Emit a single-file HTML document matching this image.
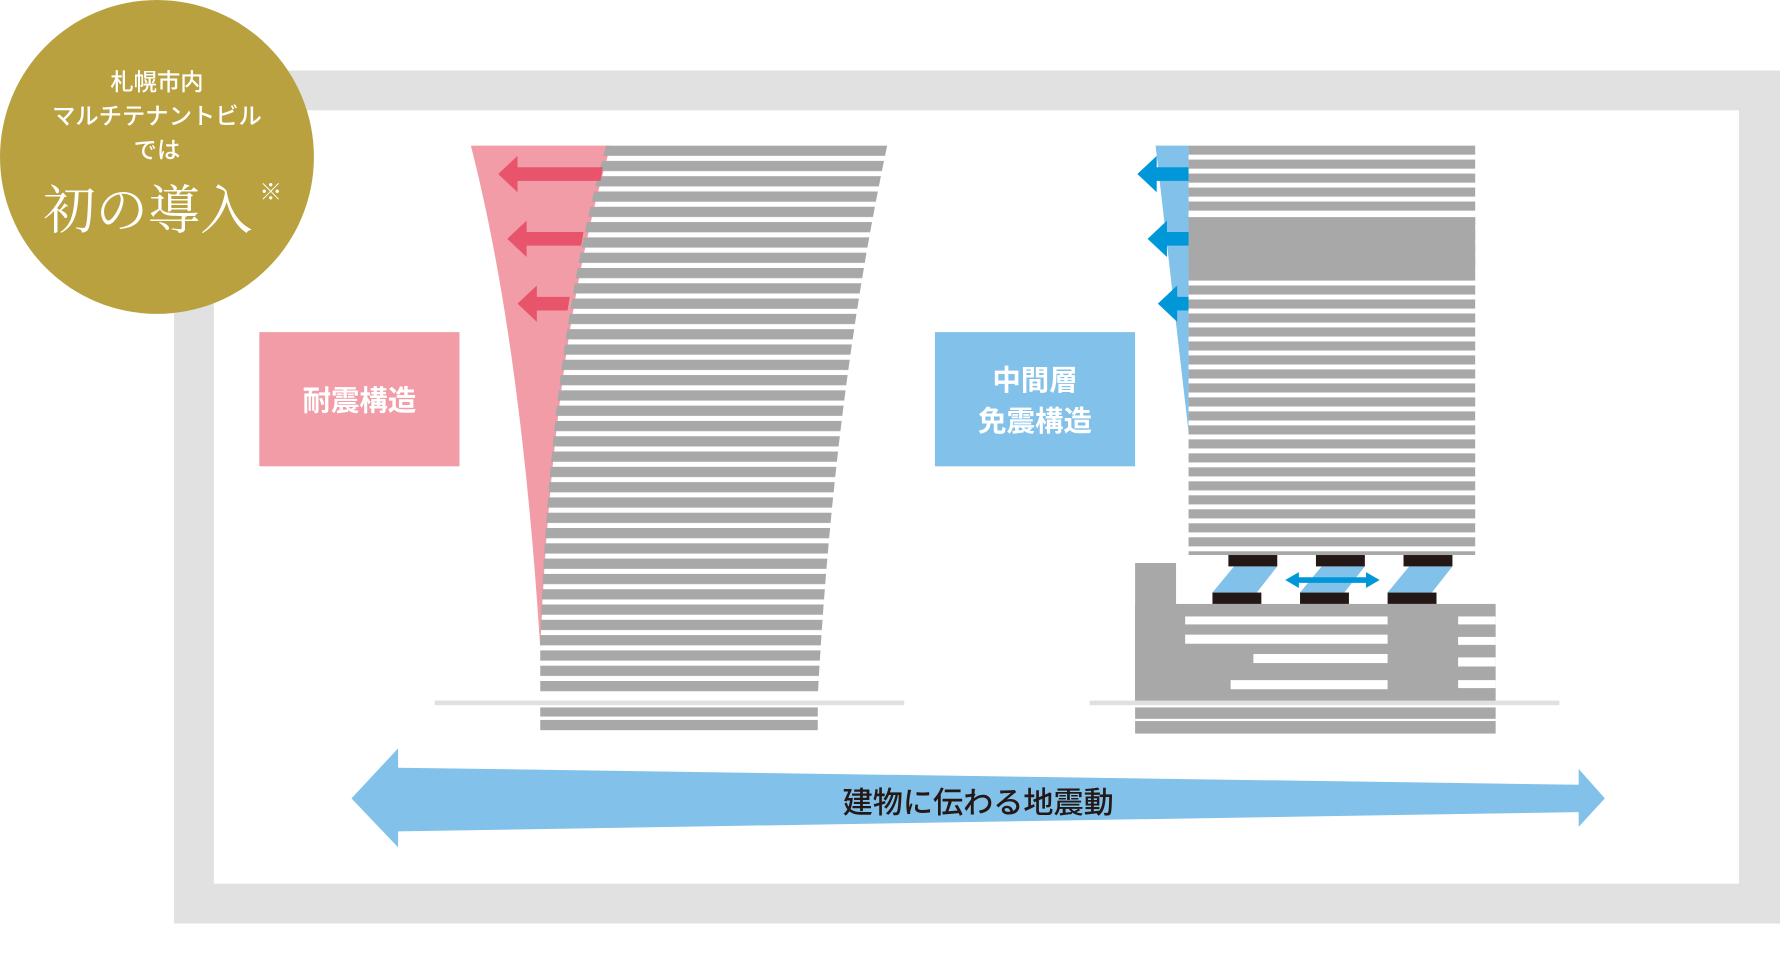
<!DOCTYPE html>
<html><head><meta charset="utf-8"><style>html,body{margin:0;padding:0;background:#fff}svg{display:block}</style></head>
<body>
<svg width="1780" height="973" viewBox="0 0 1565 855.5" preserveAspectRatio="none" xmlns="http://www.w3.org/2000/svg" font-family="'Liberation Sans','Noto Sans CJK JP',sans-serif">
<defs>
<pattern id="pL" patternUnits="userSpaceOnUse" x="0" y="128" width="10" height="13.45"><rect width="10" height="9" fill="#a7a8a7"/></pattern>
<pattern id="pR" patternUnits="userSpaceOnUse" x="0" y="128" width="10" height="12.3"><rect width="10" height="8" fill="#a7a8a7"/></pattern>
</defs>
<rect x="153" y="62" width="1412" height="750" fill="#e0e1e0"/>
<rect x="188" y="97" width="1341" height="680" fill="#fff"/>
<!-- left building -->
<path d="M414,128 L537,128 Q486,300 475,570 Q458,300 414,128 Z" fill="#f19ca7"/>
<path d="M533,128 L780,128 Q733,350 719,612 L475,612 L475,560 Q484,300 533,128 Z" fill="url(#pL)"/>
<g fill="#e8546b">
<path d="M530,147 L455,147 L455,137 L438,153 L455,169 L455,159 L528,159 Z"/>
<path d="M513,204 L463,204 L463,194 L446,210 L463,226 L463,216 L511,216 Z"/>
<path d="M501,261 L472,261 L472,251 L455,267 L472,283 L472,273 L499,273 Z"/>
</g>
<rect x="382" y="616" width="413" height="4" fill="#e0e0e0"/>
<rect x="475" y="622" width="244" height="8" fill="#a7a8a7"/>
<rect x="475" y="633" width="244" height="9" fill="#a7a8a7"/>
<rect x="228" y="292" width="176" height="118" fill="#f19ca7"/>
<text x="316" y="361" font-size="25" font-weight="bold" fill="#fff" text-anchor="middle">耐震構造</text>
<!-- right building -->
<path d="M1016,128 L1045,128 L1045,380 Z" fill="#82c1e9"/>
<rect x="1045" y="128" width="252" height="360" fill="url(#pR)"/>
<rect x="1045" y="187" width="252" height="4" fill="#fff"/>
<rect x="1045" y="191" width="252" height="49" fill="#a7a8a7"/>
<g fill="#0097d8">
<path d="M1045,147 L1017,147 L1017,137 L1000,153 L1017,169 L1017,159 L1045,159 Z"/>
<path d="M1045,204 L1026,204 L1026,194 L1009,210 L1026,226 L1026,216 L1045,216 Z"/>
<path d="M1045,261 L1035,261 L1035,251 L1018,267 L1035,283 L1035,273 L1045,273 Z"/>
</g>
<rect x="822" y="292" width="176" height="118" fill="#82c1e9"/>
<text x="910" y="343" font-size="25" font-weight="bold" fill="#fff" text-anchor="middle">中間層</text>
<text x="910" y="379" font-size="25" font-weight="bold" fill="#fff" text-anchor="middle">免震構造</text>
<!-- isolators -->
<g fill="#82c1e9">
<path d="M1085,498 L1123,498 L1105,521 L1066,521 Z"/>
<path d="M1162,498 L1200,498 L1182,521 L1143,521 Z"/>
<path d="M1239,498 L1277,498 L1259,521 L1220,521 Z"/>
</g>
<g fill="#231815">
<rect x="1080" y="488" width="43" height="10"/><rect x="1157" y="488" width="43" height="10"/><rect x="1234" y="488" width="43" height="10"/>
<rect x="1066" y="521" width="43" height="10"/><rect x="1143" y="521" width="43" height="10"/><rect x="1220" y="521" width="43" height="10"/>
</g>
<path d="M1130,510 L1142,503 L1142,507.5 L1201,507.5 L1201,503 L1213,510 L1201,517 L1201,512.5 L1142,512.5 L1142,517 Z" fill="#0097d8"/>
<!-- base -->
<rect x="998" y="495" width="36" height="123" fill="#a7a8a7"/>
<rect x="998" y="531" width="317" height="87" fill="#a7a8a7"/>
<g fill="#fff">
<rect x="1042" y="542" width="178" height="7"/><rect x="1042" y="558" width="178" height="8"/>
<rect x="1102" y="575" width="118" height="8"/><rect x="1082" y="598" width="138" height="8"/>
<rect x="1282" y="542" width="33" height="7"/><rect x="1282" y="560" width="33" height="7"/>
<rect x="1282" y="578" width="33" height="8"/><rect x="1282" y="598" width="33" height="7"/>
</g>
<rect x="958" y="616" width="413" height="4" fill="#e0e0e0"/>
<rect x="998" y="622" width="317" height="10" fill="#a7a8a7"/>
<rect x="998" y="634" width="317" height="11" fill="#a7a8a7"/>
<!-- big arrow -->
<path d="M309,702 L350,658 L350,675 L1388,690 L1388,676 L1411,702 L1388,727 L1388,714 L350,731 L350,745 Z" fill="#82c1e9"/>
<text x="860" y="715" font-size="26.5" font-weight="500" fill="#231815" text-anchor="middle">建物に伝わる地震動</text>
<!-- badge -->
<circle cx="138" cy="138" r="138" fill="#b9a140"/>
<g fill="#fff" text-anchor="middle" font-size="20.5" font-weight="500">
<text x="138" y="79">札幌市内</text>
<text x="138" y="109">マルチテナントビル</text>
<text x="138" y="139">では</text>
</g>
<text x="130" y="201" font-size="46" fill="#fff" text-anchor="middle" font-family="'Liberation Serif','Noto Serif CJK SC',serif">初の導入</text>
<text x="238" y="176" font-size="20" fill="#fff" text-anchor="middle" font-family="'Liberation Serif','Noto Serif CJK SC',serif">※</text>
</svg>
</body></html>
